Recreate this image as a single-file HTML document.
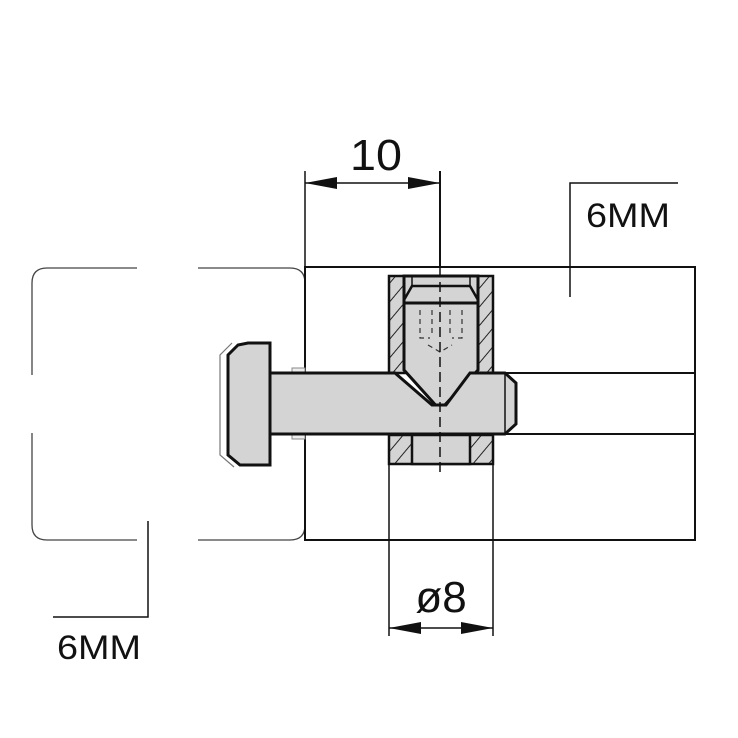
<!DOCTYPE html>
<html><head><style>body{margin:0;background:#fff}svg{display:block}</style></head><body>
<svg width="738" height="738" viewBox="0 0 738 738" xmlns="http://www.w3.org/2000/svg" font-family="Liberation Sans, sans-serif">
<defs>
<pattern id="h" width="12" height="12" patternUnits="userSpaceOnUse" patternTransform="rotate(40)"><rect width="12" height="12" fill="#d4d4d4"/><line x1="0" y1="0" x2="0" y2="12" stroke="#222" stroke-width="2"/></pattern>
</defs>
<rect width="738" height="738" fill="#fff"/>
<g fill="none" stroke="#444" stroke-width="1.3">
<path d="M137 268 H47 Q32 268 32 283 V375"/>
<path d="M32 433 V525 Q32 540 47 540 H137"/>
<path d="M198 268 H290 Q305 268 305 283"/>
<path d="M198 540 H290 Q305 540 305 525"/>
</g>
<rect x="305" y="267" width="390" height="273" fill="none" stroke="#111" stroke-width="2"/>
<line x1="505" y1="373" x2="695" y2="373" stroke="#111" stroke-width="2"/>
<line x1="505" y1="434" x2="695" y2="434" stroke="#111" stroke-width="2"/>
<path d="M389 276 H493 V373 H389 Z" fill="url(#h)" stroke="#111" stroke-width="2.5"/>
<path d="M389 435 H493 V464 H389 Z" fill="url(#h)" stroke="#111" stroke-width="2.5"/>
<rect x="412" y="435" width="58" height="29" fill="#d4d4d4" stroke="#111" stroke-width="2.5"/>
<!-- bore -->
<path d="M404 276 H478 V370 L440 410 L404 370 Z" fill="#d4d4d4" stroke="#111" stroke-width="3"/>
<path d="M404 300 L412 286 H470 L478 300" fill="none" stroke="#111" stroke-width="2.5"/>
<path d="M412 276 V286 M470 276 V286" stroke="#111" stroke-width="1.5"/>
<line x1="404" y1="303" x2="478" y2="303" stroke="#111" stroke-width="3"/>
<g stroke="#333" stroke-width="1.2" stroke-dasharray="5 4" fill="none">
<path d="M420 310 V338 H430 M462 310 V338 H452 M432 310 V336 M450 310 V336"/>
<path d="M428 345 L440 352 L452 345"/>
</g>
<!-- bolt head -->
<path d="M232 343 L220 355 V455 L234 467" fill="none" stroke="#777" stroke-width="1.2"/>
<path d="M238 345 L228 355 V455 L240 465 H270 V343 H248 Z" fill="#d4d4d4" stroke="#111" stroke-width="3"/>
<rect x="292" y="368" width="13" height="6" fill="#eee" stroke="#888" stroke-width="1"/>
<rect x="292" y="433" width="13" height="6" fill="#eee" stroke="#888" stroke-width="1"/>
<!-- shaft -->
<path d="M270 373 H395 L432 405 H446 L470 373 H505 L516 383 V424 L505 434 H270 Z" fill="#d4d4d4" stroke="#111" stroke-width="3"/>
<line x1="505" y1="373" x2="505" y2="434" stroke="#111" stroke-width="1.5"/>
<line x1="440" y1="171" x2="440" y2="267" stroke="#111" stroke-width="2"/>
<line x1="440" y1="267" x2="440" y2="475" stroke="#111" stroke-width="1.5" stroke-dasharray="10 5"/>
<!-- dim 10 -->
<line x1="305" y1="171" x2="305" y2="267" stroke="#111" stroke-width="1.5"/>
<line x1="305" y1="183" x2="440" y2="183" stroke="#111" stroke-width="1.5"/>
<path d="M305 183 L337 177 V189 Z M440 183 L408 177 V189 Z" fill="#111"/>
<text x="350" y="170" font-size="44" textLength="52" lengthAdjust="spacingAndGlyphs" fill="#111">10</text>
<path d="M570 297 V183 H678" fill="none" stroke="#111" stroke-width="1.5"/>
<text x="586" y="227" font-size="34" textLength="84" lengthAdjust="spacingAndGlyphs" fill="#111">6MM</text>
<path d="M148 521 V617 H53" fill="none" stroke="#111" stroke-width="1.5"/>
<text x="57" y="659" font-size="34" textLength="84" lengthAdjust="spacingAndGlyphs" fill="#111">6MM</text>
<line x1="389" y1="464" x2="389" y2="636" stroke="#111" stroke-width="1.5"/>
<line x1="493" y1="464" x2="493" y2="636" stroke="#111" stroke-width="1.5"/>
<line x1="389" y1="628" x2="493" y2="628" stroke="#111" stroke-width="1.5"/>
<path d="M389 628 L421 622 V634 Z M493 628 L461 622 V634 Z" fill="#111"/>
<text x="441" y="612" font-size="44" text-anchor="middle" fill="#111">ø8</text>
</svg>
</body></html>
